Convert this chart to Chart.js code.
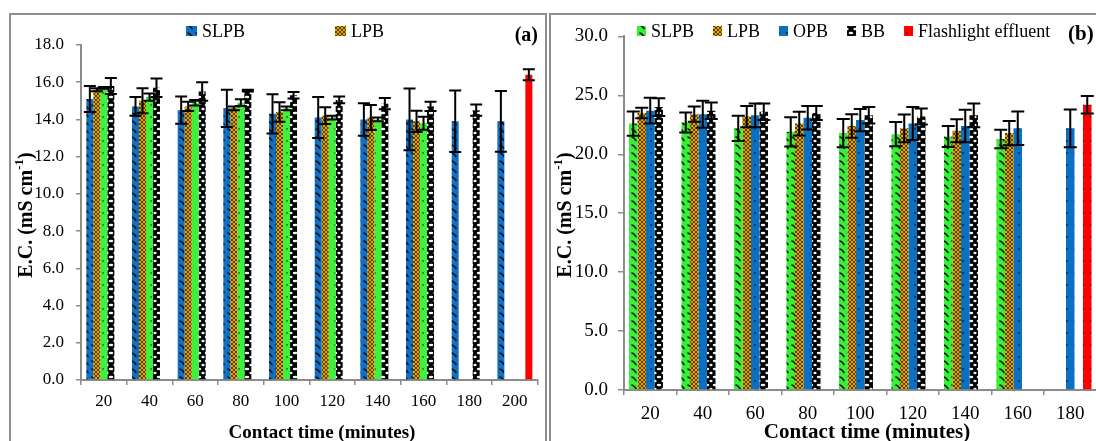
<!DOCTYPE html>
<html>
<head>
<meta charset="utf-8">
<script src="https://cdn.jsdelivr.net/npm/chart.js@4.4.1/dist/chart.umd.min.js"></script>
<style>
  html, body { margin: 0; padding: 0; background: #fff; overflow: hidden; width: 1096px; height: 441px; }
  .panel { position: absolute; top: 13px; border: 2px solid #8e8e8e; background: #fff; }
  #pa { left: 9px; width: 534px; height: 440px; }
  #pb { left: 549px; width: 560px; height: 440px; }
  canvas { display: block; }
</style>
</head>
<body>
<div class="panel" id="pa"><canvas id="ca" width="534" height="440"></canvas></div>
<div class="panel" id="pb"><canvas id="cb" width="560" height="440"></canvas></div>
<script>
// ---- Panel (a): E.C. vs contact time ----
const timesA = [20, 40, 60, 80, 100, 120, 140, 160, 180, 200];
const slpbA    = [15.1, 14.7, 14.5, 14.6, 14.3, 14.1, 14.0, 14.0, 13.9, 13.9];
const slpbErrA = [0.7, 0.5, 0.73, 1.0, 1.05, 1.1, 0.87, 1.66, 1.65, 1.63];
const lpbA     = [15.6, 15.0, 14.7, 14.6, 14.4, 14.2, 14.1, 13.9, null, null];
const lpbErrA  = [0.08, 0.67, 0.25, 0.1, 0.53, 0.45, 0.67, 0.57, null, null];
const opbA     = [15.7, 15.2, 14.9, 14.9, 14.6, 14.1, 14.0, 13.8, null, null];
const opbErrA  = [0.05, 0.2, 0.15, 0.18, 0.1, 0.1, 0.1, 0.35, null, null];
const bbA      = [15.8, 15.7, 15.5, 15.55, 15.3, 15.05, 14.85, 14.7, 14.5, null];
const bbErrA   = [0.43, 0.5, 0.5, 0.05, 0.18, 0.18, 0.3, 0.25, 0.3, null];
const flashA    = [null, null, null, null, null, null, null, null, null, 16.4];
const flashErrA = [null, null, null, null, null, null, null, null, null, 0.3];
const yTicksA = { min: 0, max: 18, step: 2 };

// ---- Panel (b): E.C. vs contact time ----
const timesB = [20, 40, 60, 80, 100, 120, 140, 160, 180];
const slpbB    = [22.6, 22.7, 22.2, 21.9, 21.8, 21.7, 21.5, 21.3, null];
const slpbErrB = [1.03, 0.85, 1.07, 1.25, 1.2, 1.03, 0.89, 0.78, null];
const lpbB     = [23.5, 23.4, 23.2, 22.6, 22.4, 22.2, 22.0, 21.8, null];
const lpbErrB  = [0.45, 0.65, 0.9, 1.0, 1.0, 1.17, 0.98, 1.03, null];
const opbB     = [23.7, 23.4, 23.3, 23.1, 22.9, 22.6, 22.4, 22.2, 22.2];
const opbErrB  = [1.1, 1.15, 1.0, 1.0, 0.95, 1.4, 1.37, 1.42, 1.6];
const bbB      = [24.0, 23.7, 23.6, 23.5, 23.3, 23.2, 23.3, null, null];
const bbErrB   = [0.75, 0.7, 0.7, 0.6, 0.7, 0.68, 1.0, null, null];
const flashB    = [null, null, null, null, null, null, null, null, 24.2];
const flashErrB = [null, null, null, null, null, null, null, null, 0.75];
const yTicksB = { min: 0, max: 30, step: 5 };

const seriesNames = ['SLPB', 'LPB', 'OPB', 'BB', 'Flashlight effluent'];
const legendA = ['SLPB', 'LPB'];
const legendB = ['SLPB', 'LPB', 'OPB', 'BB', 'Flashlight effluent'];

const SERIF = "'Liberation Serif', 'Times New Roman', serif";
const AXIS_GRAY = '#8c8c8c';

// ---- fill patterns ----
function tile(ctx, w, h, draw) {
  const c = document.createElement('canvas');
  c.width = w; c.height = h;
  draw(c.getContext('2d'), w, h);
  return ctx.createPattern(c, 'repeat');
}
function hatch(ctx, base) {
  return tile(ctx, 8, 8, (g, w, h) => {
    g.fillStyle = base; g.fillRect(0, 0, w, h);
    g.strokeStyle = '#101010'; g.lineWidth = 1.6; g.lineCap = 'round';
    g.beginPath(); g.moveTo(1, 2); g.quadraticCurveTo(3, 2.5, 5, 5.5); g.stroke();
  });
}
function checker(ctx) {
  return tile(ctx, 4, 4, (g, w, h) => {
    g.fillStyle = '#e2a400'; g.fillRect(0, 0, w, h);
    g.fillStyle = '#5e4000';
    g.fillRect(0, 0, 2, 2); g.fillRect(2, 2, 2, 2);
  });
}
function dotted(ctx, base, dot) {
  return tile(ctx, 8, 12, (g, w, h) => {
    g.fillStyle = base; g.fillRect(0, 0, w, h);
    g.fillStyle = dot; g.beginPath(); g.arc(4, 6, 0.9, 0, Math.PI * 2); g.fill();
  });
}
function bubbles(ctx) {
  return tile(ctx, 8, 8, (g, w, h) => {
    g.fillStyle = '#000'; g.fillRect(0, 0, w, h);
    g.fillStyle = '#f4f4f4';
    g.beginPath(); g.ellipse(4, 2, 2.3, 1.2, 0, 0, Math.PI * 2); g.fill();
    g.beginPath(); g.ellipse(0, 6, 1.6, 1.2, 0, 0, Math.PI * 2); g.fill();
    g.beginPath(); g.ellipse(8, 6, 1.6, 1.2, 0, 0, Math.PI * 2); g.fill();
  });
}

// ---- plugin: error bars drawn through the value scale ----
const errorBars = {
  id: 'errorBars',
  afterDatasetsDraw(chart, args, opts) {
    const { ctx, scales: { y } } = chart;
    ctx.save();
    ctx.strokeStyle = '#000';
    ctx.lineWidth = opts.lineWidth || 2;
    chart.data.datasets.forEach((ds, i) => {
      const meta = chart.getDatasetMeta(i);
      meta.data.forEach((bar, j) => {
        const v = ds.data[j], e = ds.errors ? ds.errors[j] : null;
        if (v == null || e == null) return;
        const t = y.getPixelForValue(v + e), b = y.getPixelForValue(v - e);
        const hw = opts.cap / 2;
        ctx.beginPath();
        ctx.moveTo(bar.x, t); ctx.lineTo(bar.x, b);
        ctx.moveTo(bar.x - hw, t); ctx.lineTo(bar.x + hw, t);
        ctx.moveTo(bar.x - hw, b); ctx.lineTo(bar.x + hw, b);
        ctx.stroke();
      });
    });
    ctx.restore();
  }
};

// ---- plugin: legend, axis titles and panel letter ----
function drawRuns(ctx, runs, cx, cy, rotate) {
  ctx.save();
  ctx.translate(cx, cy);
  if (rotate) ctx.rotate(-Math.PI / 2);
  ctx.textBaseline = 'middle'; ctx.textAlign = 'left'; ctx.fillStyle = '#000';
  let total = 0;
  const widths = runs.map(r => { ctx.font = r.font; const w = ctx.measureText(r.text).width; total += w; return w; });
  let x = -total / 2;
  runs.forEach((r, k) => { ctx.font = r.font; ctx.fillText(r.text, x, r.dy || 0); x += widths[k]; });
  ctx.restore();
}
const annotations = {
  id: 'annotations',
  afterDraw(chart, args, o) {
    const ctx = chart.ctx;
    // legend
    const L = o.legend;
    let x = L.x;
    ctx.save();
    ctx.font = L.font; ctx.textBaseline = 'middle'; ctx.textAlign = 'left';
    L.items.forEach(name => {
      const ds = chart.data.datasets.find(d => d.label === name);
      ctx.fillStyle = ds.backgroundColor;
      ctx.fillRect(x, L.y - L.boxH / 2, L.boxW, L.boxH);
      x += L.boxW + L.textGap;
      ctx.fillStyle = '#000';
      ctx.fillText(name, x, L.y + 1);
      x += ctx.measureText(name).width + L.itemGap;
    });
    ctx.restore();
    // axis titles
    drawRuns(ctx, o.yTitle.runs, o.yTitle.x, o.yTitle.y, true);
    drawRuns(ctx, o.xTitle.runs, o.xTitle.x, o.xTitle.y, false);
    // panel letter
    ctx.save();
    ctx.font = o.letter.font; ctx.fillStyle = '#000';
    ctx.textAlign = o.letter.align; ctx.textBaseline = 'middle';
    ctx.fillText(o.letter.text, o.letter.x, o.letter.y);
    ctx.restore();
  }
};

function yTitleRuns(size, sup) {
  return [
    { text: 'E.C. (mS cm', font: `bold ${size}px ${SERIF}` },
    { text: '-1', font: `bold ${sup}px ${SERIF}`, dy: -size * 0.35 },
    { text: ')', font: `bold ${size}px ${SERIF}` }
  ];
}

function makeDatasets(fills, values, errs) {
  return seriesNames.map((name, k) => ({
    label: name,
    data: values[k],
    errors: errs[k],
    backgroundColor: fills[k],
    borderWidth: 0
  }));
}

function buildChart(canvasId, cfg) {
  const ctx = document.getElementById(canvasId).getContext('2d');
  const fills = cfg.fills(ctx);
  return new Chart(ctx, {
    type: 'bar',
    data: { labels: cfg.labels, datasets: makeDatasets(fills, cfg.values, cfg.errs) },
    options: {
      responsive: false,
      animation: false,
      events: [],
      datasets: { bar: { categoryPercentage: cfg.catPct, barPercentage: 1.0 } },
      layout: { padding: cfg.padding },
      plugins: {
        legend: { display: false },
        tooltip: { enabled: false },
        errorBars: { cap: cfg.cap, lineWidth: 2 },
        annotations: cfg.annotations
      },
      scales: {
        x: {
          grid: { offset: true, drawOnChartArea: false, drawTicks: true, tickLength: 5, color: AXIS_GRAY, lineWidth: 1.5 },
          border: { color: AXIS_GRAY, width: 2 },
          ticks: { color: '#000', font: { family: SERIF, size: cfg.tickSize }, padding: cfg.xTickPad, maxRotation: 0, autoSkip: false },
          afterFit(s) { s.height = cfg.xAxisH; }
        },
        y: {
          min: cfg.yTicks.min, max: cfg.yTicks.max,
          grid: { drawOnChartArea: false, drawTicks: true, tickLength: cfg.yTickLen, color: AXIS_GRAY, lineWidth: 1.5 },
          border: { color: AXIS_GRAY, width: 2 },
          ticks: { stepSize: cfg.yTicks.step, color: '#000', font: { family: SERIF, size: cfg.tickSize }, padding: cfg.yTickPad, callback: v => v.toFixed(1) },
          afterFit(s) { s.width = cfg.yAxisW; }
        }
      }
    },
    plugins: [errorBars, annotations]
  });
}

buildChart('ca', {
  labels: timesA,
  values: [slpbA, lpbA, opbA, bbA, flashA],
  errs: [slpbErrA, lpbErrA, opbErrA, bbErrA, flashErrA],
  fills: ctx => [hatch(ctx, '#1170c4'), checker(ctx), dotted(ctx, '#3cf23c', '#2a6a2a'), bubbles(ctx), '#ff0000'],
  yTicks: yTicksA,
  catPct: 0.766,
  cap: 12,
  padding: { left: 0, top: 30, right: 7.3, bottom: 12 },
  xAxisH: 63, yAxisW: 70,
  tickSize: 17, xTickPad: 6, yTickPad: 12, yTickLen: 5,
  annotations: {
    legend: { items: legendA, x: 175, y: 16, boxW: 11, boxH: 10, textGap: 5, itemGap: 90, font: `18px ${SERIF}` },
    yTitle: { x: 16, y: 200, runs: yTitleRuns(20, 13) },
    xTitle: { x: 311, y: 418, runs: [{ text: 'Contact time (minutes)', font: `bold 19px ${SERIF}` }] },
    letter: { text: '(a)', x: 527, y: 21, align: 'right', font: `bold 20px ${SERIF}` }
  }
});

buildChart('cb', {
  labels: timesB,
  values: [slpbB, lpbB, opbB, bbB, flashB],
  errs: [slpbErrB, lpbErrB, opbErrB, bbErrB, flashErrB],
  fills: ctx => [hatch(ctx, '#35f035'), checker(ctx), dotted(ctx, '#0b6fc2', '#06243f'), bubbles(ctx), dotted(ctx, '#ff0000', '#5a0000')],
  yTicks: yTicksB,
  catPct: 0.81,
  cap: 13,
  padding: { left: 0, top: 21, right: 14.5, bottom: 10 },
  xAxisH: 55, yAxisW: 73,
  tickSize: 19, xTickPad: 7.6, yTickPad: 10, yTickLen: 6,
  annotations: {
    legend: { items: legendB, x: 86, y: 16, boxW: 9, boxH: 10, textGap: 5, itemGap: 19, font: `18px ${SERIF}` },
    yTitle: { x: 15, y: 200, runs: yTitleRuns(20, 13) },
    xTitle: { x: 316, y: 418, runs: [{ text: 'Contact time (minutes)', font: `bold 21px ${SERIF}` }] },
    letter: { text: '(b)', x: 517, y: 20, align: 'left', font: `bold 21px ${SERIF}` }
  }
});
</script>
</body>
</html>
